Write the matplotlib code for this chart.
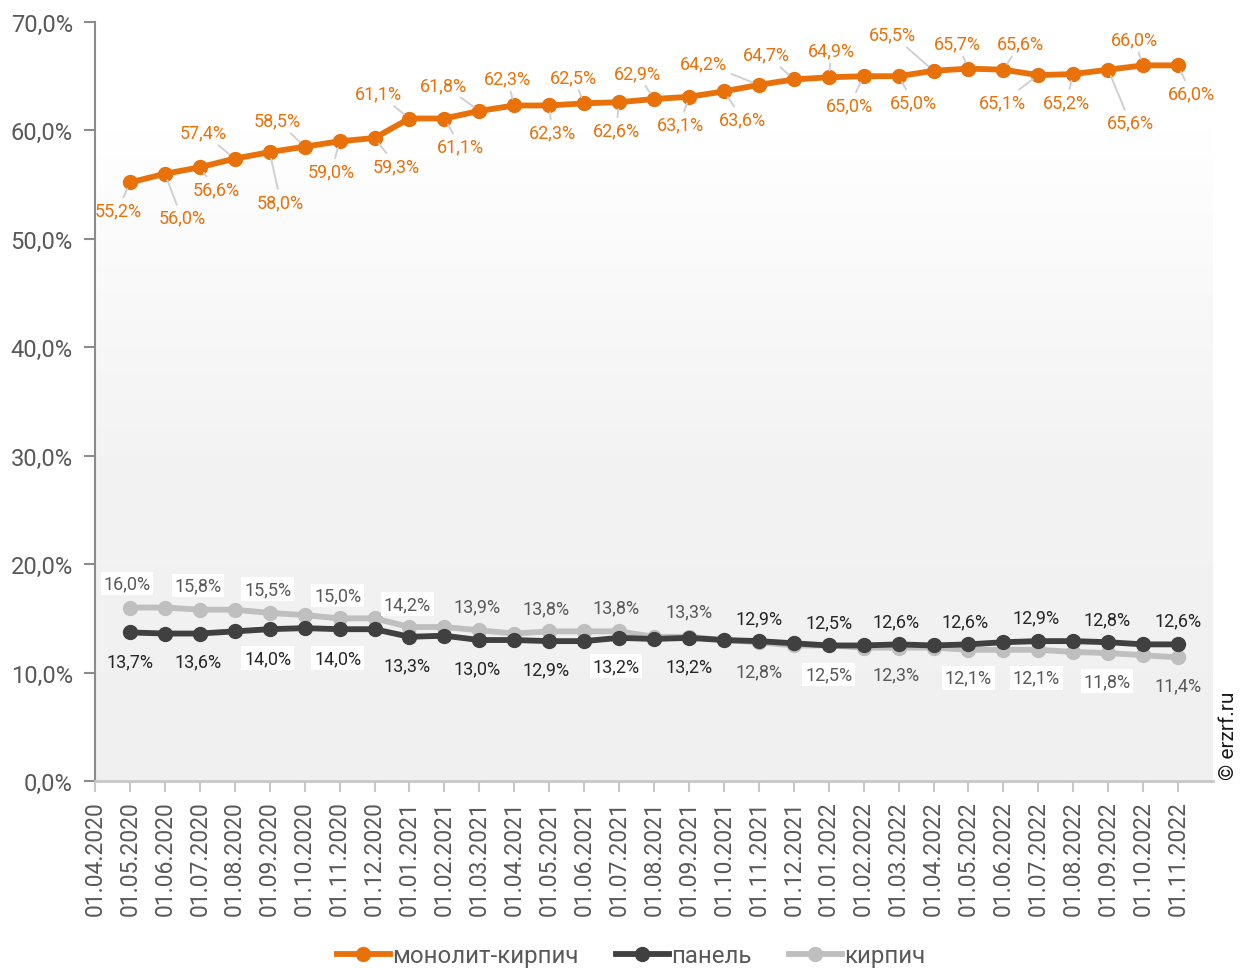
import numpy as np
import matplotlib
matplotlib.use("Agg")
import matplotlib.pyplot as plt
from matplotlib.colors import LinearSegmentedColormap

plt.rcParams['font.family'] = ['Roboto', 'DejaVu Sans']

# ---- data ----
dates = ["01.04.2020", "01.05.2020", "01.06.2020", "01.07.2020", "01.08.2020",
         "01.09.2020", "01.10.2020", "01.11.2020", "01.12.2020", "01.01.2021",
         "01.02.2021", "01.03.2021", "01.04.2021", "01.05.2021", "01.06.2021",
         "01.07.2021", "01.08.2021", "01.09.2021", "01.10.2021", "01.11.2021",
         "01.12.2021", "01.01.2022", "01.02.2022", "01.03.2022", "01.04.2022",
         "01.05.2022", "01.06.2022", "01.07.2022", "01.08.2022", "01.09.2022",
         "01.10.2022", "01.11.2022"]

monolith_brick = [55.2, 56.0, 56.6, 57.4, 58.0, 58.5, 59.0, 59.3, 61.1, 61.1,
                  61.8, 62.3, 62.3, 62.5, 62.6, 62.9, 63.1, 63.6, 64.2, 64.7,
                  64.9, 65.0, 65.0, 65.5, 65.7, 65.6, 65.1, 65.2, 65.6, 66.0, 66.0]
panel = [13.7, 13.6, 13.6, 13.8, 14.0, 14.1, 14.0, 14.0, 13.3, 13.4,
         13.0, 13.0, 12.9, 12.9, 13.2, 13.1, 13.2, 13.0, 12.9, 12.7,
         12.5, 12.5, 12.6, 12.5, 12.6, 12.8, 12.9, 12.9, 12.8, 12.6, 12.6]
brick = [16.0, 16.0, 15.8, 15.8, 15.5, 15.3, 15.0, 15.0, 14.2, 14.2,
         13.9, 13.6, 13.8, 13.8, 13.8, 13.3, 13.3, 13.0, 12.8, 12.5,
         12.5, 12.3, 12.3, 12.3, 12.1, 12.1, 12.1, 11.9, 11.8, 11.6, 11.4]

series_names = ["монолит-кирпич", "панель", "кирпич"]
y_ticks = [0, 10, 20, 30, 40, 50, 60, 70]

# ---- styling / label placement (pixel offsets from each point) ----
c_orange = "#E8710A"
c_dark = "#404040"
c_gray = "#BFBFBF"

orange_offsets = [(-12, -28), (17, -44), (16, -22), (-32, 26), (11, -50), (-27, 26),
                  (-8, -30), (22, -28), (-31, 25), (16, -28), (-36, 26), (-7, 27),
                  (3, -27), (-11, 26), (-3, -28), (-17, 26), (-9, -28), (19, -28),
                  (-55, 22), (-27, 25), (3, 27), (-14, -29), (15, -26), (-41, 36),
                  (-11, 25), (17, 26), (-36, -27), (-7, -28), (22, -53), (-9, 26),
                  (13, -28)]
panel_offsets = [(0, -29), (-2, -28), (-2, -29), (-2, -29), (-2, -29), (-2, -28),
                 (-3, -28), (-3, -28), (0, -28), (0, 23), (0, 23), (-3, 23),
                 (-3, 23), (-2, 24), (-1, 23), (0, 24)]
panel_boxed = [False, False, True, True, False, False, False, True,
               False, False, False, False, False, False, False, False]
brick_offsets = [(-3, 24), (-2, 24), (-2, 24), (-2, 23), (-2, 23), (-2, 24),
                 (-3, 23), (-3, 24), (0, 25), (0, -29), (0, -29), (-3, -27),
                 (0, -28), (-2, -28), (-1, -28), (0, -28)]
brick_boxed = [True, True, True, True, True, False, False, False,
               False, False, True, False, True, True, True, False]

fig = plt.figure(figsize=(12.52, 9.70), dpi=100)
ax = fig.add_axes([95 / 1252, 1 - 782 / 970, (1213 - 95) / 1252, (782 - 23) / 970])

x_all = np.arange(len(dates))
x = x_all[1:]

ax.set_xlim(0, 32)
ax.set_ylim(0, 70)

# background: white on top, soft grey gradient towards the bottom
grad = np.linspace(0, 1, 256).reshape(-1, 1)
cmap = LinearSegmentedColormap.from_list("bg", ["#F0F0F0", "#F3F3F3", "#FFFFFF"])
ax.imshow(grad, extent=[0, 32, 0, 60], origin="lower", aspect="auto",
          cmap=cmap, zorder=0, interpolation="bicubic")

lw = 4.2
ms = 10
ax.plot(x, brick, color=c_gray, lw=lw, marker="o", ms=ms, zorder=3,
        solid_joinstyle="round", label=series_names[2])
ax.plot(x, panel, color=c_dark, lw=lw, marker="o", ms=ms, zorder=4,
        solid_joinstyle="round", label=series_names[1])
ax.plot(x, monolith_brick, color=c_orange, lw=lw, marker="o", ms=ms, zorder=5,
        solid_joinstyle="round", label=series_names[0])


def fmt(v):
    return f"{v:.1f}%".replace(".", ",")


label_fs = 13
for xi, v, off in zip(x, monolith_brick, orange_offsets):
    ax.annotate(fmt(v), (xi, v), xytext=off, textcoords="offset pixels",
                ha="center", va="center", fontsize=label_fs, color=c_orange,
                zorder=6,
                arrowprops=dict(arrowstyle="-", color="#D0D0D0", lw=1.4,
                                shrinkA=1, shrinkB=5))

idx = list(range(0, len(x), 2))
for k, i in enumerate(idx):
    bb = dict(boxstyle="square,pad=0.15", fc="white", ec="none") if panel_boxed[k] else None
    ax.annotate(fmt(panel[i]), (x[i], panel[i]), xytext=panel_offsets[k],
                textcoords="offset pixels", ha="center", va="center",
                fontsize=label_fs, color="#262626", zorder=6, bbox=bb)
    bb = dict(boxstyle="square,pad=0.15", fc="white", ec="none") if brick_boxed[k] else None
    ax.annotate(fmt(brick[i]), (x[i], brick[i]), xytext=brick_offsets[k],
                textcoords="offset pixels", ha="center", va="center",
                fontsize=label_fs, color="#595959", zorder=6, bbox=bb)

# axes
for s in ["top", "right"]:
    ax.spines[s].set_visible(False)
ax.spines["left"].set_color("#8C8C8C")
ax.spines["left"].set_linewidth(1.5)
ax.spines["bottom"].set_color("#C8C8C8")
ax.spines["bottom"].set_linewidth(2)

ax.set_yticks(y_ticks)
ax.set_yticklabels([fmt(t) for t in y_ticks])
ax.tick_params(axis="y", length=8, width=1.5, color="#8C8C8C",
               labelsize=17, labelcolor="#595959", pad=8)
ax.set_xticks(x_all)
ax.set_xticklabels(dates, rotation=90)
ax.tick_params(axis="x", length=8, width=1.5, color="#C8C8C8",
               labelsize=16.5, labelcolor="#595959", pad=6)

handles, labels = ax.get_legend_handles_labels()
order = [2, 1, 0]
fig.legend([handles[i] for i in order], [labels[i] for i in order],
           loc="center", bbox_to_anchor=(631 / 1252, 1 - 957 / 970), ncol=3,
           frameon=False, fontsize=17.3, labelcolor="#595959", handlelength=2.2,
           handletextpad=0.1, columnspacing=1.55)

fig.text(1228 / 1252, 1 - 736 / 970, "© erzrf.ru", rotation=90, ha="center",
         va="center", fontsize=15, color="#1A1A1A")

fig.savefig("out.png", dpi=100)
